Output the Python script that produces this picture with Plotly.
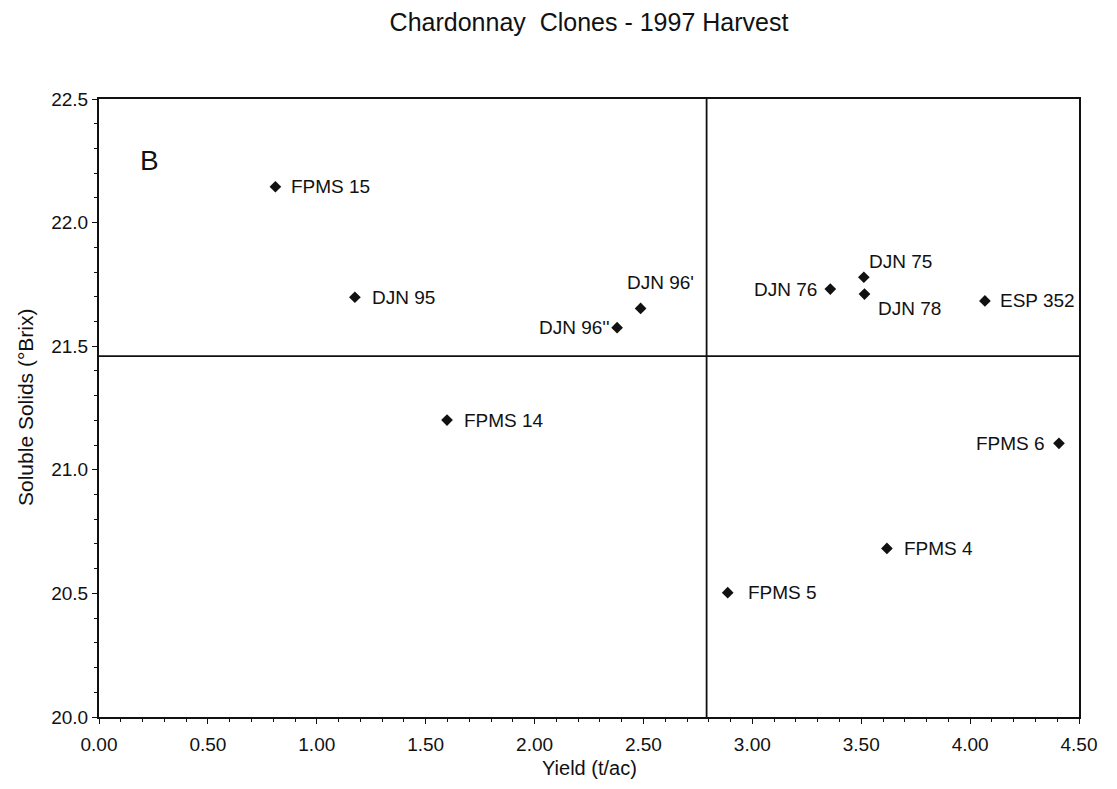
import plotly.graph_objects as go

# ---- data ----
clones = ["FPMS 15", "DJN 95", "FPMS 14", "DJN 96'", "DJN 96''", "DJN 76",
          "DJN 75", "DJN 78", "ESP 352", "FPMS 6", "FPMS 4", "FPMS 5"]
yield_tac = [0.81, 1.175, 1.598, 2.487, 2.379, 3.358,
             3.512, 3.515, 4.068, 4.408, 3.618, 2.887]
brix = [22.145, 21.698, 21.201, 21.653, 21.575, 21.731,
        21.779, 21.711, 21.683, 21.107, 20.682, 20.503]
mean_yield = 2.79
mean_brix = 21.46
x_range = [0.0, 4.5]
y_range = [20.0, 22.5]
x_ticks = [0.0, 0.5, 1.0, 1.5, 2.0, 2.5, 3.0, 3.5, 4.0, 4.5]
y_ticks = [20.0, 20.5, 21.0, 21.5, 22.0, 22.5]

# label placement (anchor, xshift px, yshift px) per clone
label_pos = {
    "FPMS 15": ("left", 14, 0),
    "DJN 95": ("left", 15, 0),
    "FPMS 14": ("left", 15, 0),
    "DJN 96'": ("left", -16, 26),
    "DJN 96''": ("right", -5, 0),
    "DJN 76": ("right", -11, 0),
    "DJN 75": ("left", 3, 16),
    "DJN 78": ("left", 12, -14),
    "ESP 352": ("left", 13, 0),
    "FPMS 6": ("right", -12, 0),
    "FPMS 4": ("left", 15, 0),
    "FPMS 5": ("left", 18, 0),
}

FONT = "Liberation Sans, Arial, sans-serif"
INK = "#111111"

# the page body adds an 8 px margin, so the figure is sized to fit inside it
W, H = 1101, 773

fig = go.Figure()

# mean reference lines
fig.add_trace(go.Scatter(x=[mean_yield, mean_yield], y=y_range, mode="lines",
                         line=dict(color=INK, width=1.8), hoverinfo="skip",
                         showlegend=False, cliponaxis=False))
fig.add_trace(go.Scatter(x=x_range, y=[mean_brix, mean_brix], mode="lines",
                         line=dict(color=INK, width=1.8), hoverinfo="skip",
                         showlegend=False, cliponaxis=False))

# points
fig.add_trace(go.Scatter(x=yield_tac, y=brix, mode="markers", text=clones,
                         marker=dict(symbol="diamond", size=9, color=INK),
                         showlegend=False))

for name, xv, yv in zip(clones, yield_tac, brix):
    anchor, dx, dy = label_pos[name]
    fig.add_annotation(x=xv, y=yv, text=name, showarrow=False,
                       xanchor=anchor, yanchor="middle", xshift=dx, yshift=dy,
                       font=dict(family=FONT, size=19, color=INK))

# panel letter
fig.add_annotation(x=0.04, y=0.9, xref="paper", yref="paper", text="B",
                   showarrow=False, xanchor="left", yanchor="middle",
                   font=dict(family=FONT, size=28, color=INK))

# axis titles
fig.add_annotation(x=0.5, y=0, xref="paper", yref="paper", text="Yield (t/ac)",
                   showarrow=False, yanchor="bottom", yshift=-64,
                   font=dict(family=FONT, size=20, color=INK))
fig.add_annotation(x=0, y=0.5, xref="paper", yref="paper",
                   text="Soluble Solids (°Brix)", textangle=-90,
                   showarrow=False, xanchor="center", xshift=-74,
                   font=dict(family=FONT, size=21, color=INK))

fig.update_layout(
    width=W, height=H,
    margin=dict(l=91, r=21, t=91, b=64),
    paper_bgcolor="white", plot_bgcolor="white",
    title=dict(text="Chardonnay  Clones - 1997 Harvest", x=0.5, xref="paper",
               y=1 - 14 / H, yanchor="middle",
               font=dict(family=FONT, size=25, color=INK)),
    font=dict(family=FONT, color=INK),
)

fig.update_xaxes(range=x_range, tickvals=x_ticks, ticktext=[f"{v:.2f}" for v in x_ticks],
                 showgrid=False, zeroline=False, showline=True, linecolor=INK,
                 linewidth=2, mirror=True, ticks="outside", ticklen=5,
                 ticklabelstandoff=4,
                 tickcolor=INK, tickfont=dict(family=FONT, size=19, color=INK),
                 minor=dict(dtick=0.1, ticks="outside", ticklen=3, tickcolor=INK,
                            showgrid=False))
fig.update_yaxes(range=y_range, tickvals=y_ticks, ticktext=[f"{v:.1f}" for v in y_ticks],
                 showgrid=False, zeroline=False, showline=True, linecolor=INK,
                 linewidth=2, mirror=True, ticks="outside", ticklen=5,
                 tickcolor=INK, tickfont=dict(family=FONT, size=19, color=INK),
                 minor=dict(dtick=0.1, ticks="outside", ticklen=3, tickcolor=INK,
                            showgrid=False))

fig.write_html("out.html")
